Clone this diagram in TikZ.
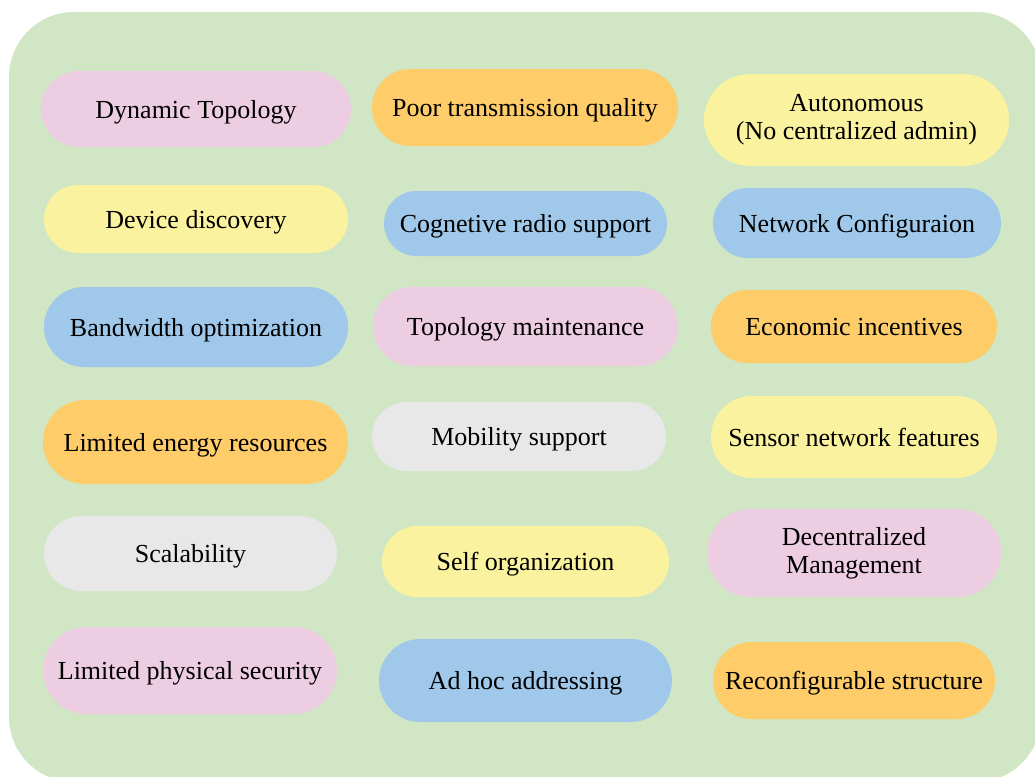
\documentclass[tikz,border=0pt]{standalone}
\usepackage{fontspec}
\setmainfont{Liberation Serif}
\definecolor{bggreen}{HTML}{D0E6C4}
\definecolor{cpink}{HTML}{ECCDE1}
\definecolor{cyellow}{HTML}{FAF29E}
\definecolor{cblue}{HTML}{9FC8EA}
\definecolor{corange}{HTML}{FECC68}
\definecolor{cgray}{HTML}{E8E8E8}
\tikzset{
  pill/.style={draw=none, inner sep=0pt, font=\fontsize{26}{28}\selectfont, text=black},
  one/.style={text height=20pt, text depth=2pt},
  two/.style={align=center},
}
\newcommand{\pillnode}[8]{%
  \node[pill, #8, fill=#6, minimum width=#3pt, minimum height=#4pt, rounded corners=#5pt] (#1) at (#2) {#7};}
\begin{document}
\begin{tikzpicture}[x=1pt,y=-1pt]
\useasboundingbox (0,0) rectangle (1035,776);
\clip (0,0) rectangle (1035,776);
\fill[bggreen, rounded corners=65pt] (9,12) rectangle (1041,782);
% column 1
\pillnode{dt}{196,109}{310}{76}{37.9}{cpink}{Dynamic Topology}{one}
\pillnode{dd}{196,219}{304}{68}{33.9}{cyellow}{Device discovery}{one}
\pillnode{bo}{196,327}{304}{80}{39.9}{cblue}{Bandwidth optimization}{one}
\pillnode{le}{195.5,442}{305}{84}{41.9}{corange}{Limited energy resources}{one}
\pillnode{sc}{190.5,553.5}{293}{75}{37.4}{cgray}{Scalability}{one}
\pillnode{lp}{190,670.5}{294}{87}{43.4}{cpink}{Limited physical security}{one}
% column 2
\pillnode{pt}{525,107.5}{306}{77}{38.4}{corange}{Poor transmission quality}{one}
\pillnode{cr}{525.5,223.5}{283}{65}{32.4}{cblue}{Cognetive radio support}{one}
\pillnode{tm}{525.5,326.5}{305}{79}{39.4}{cpink}{Topology maintenance}{one}
\pillnode{ms}{519,436.5}{294}{69}{34.4}{cgray}{Mobility support}{one}
\pillnode{so}{525.5,561.5}{287}{71}{35.4}{cyellow}{Self organization}{one}
\pillnode{ah}{525.5,680.5}{293}{83}{41.4}{cblue}{Ad hoc addressing}{one}
% column 3
\pillnode{au}{856.5,120}{305}{92}{45.9}{cyellow}{Autonomous\\(No centralized admin)}{two}
\pillnode{nc}{857,223}{288}{70}{34.9}{cblue}{Network Configuraion}{one}
\pillnode{ei}{854,326.5}{286}{73}{36.4}{corange}{Economic incentives}{one}
\pillnode{sn}{854,437}{286}{82}{40.9}{cyellow}{Sensor network features}{one}
\pillnode{dm}{854,553}{294}{88}{43.9}{cpink}{Decentralized\\Management}{two}
\pillnode{rs}{854,680.5}{282}{77}{38.4}{corange}{Reconfigurable structure}{one}
\end{tikzpicture}
\end{document}
